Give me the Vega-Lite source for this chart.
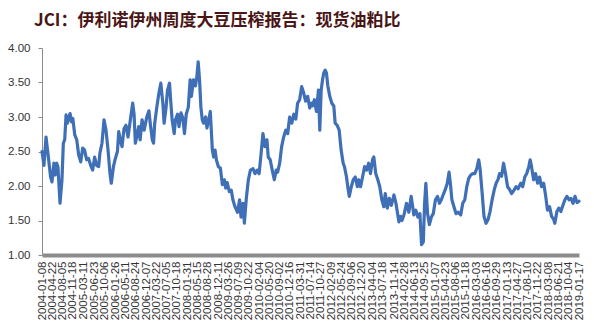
{
  "$schema": "https://vega.github.io/schema/vega-lite/v6.json",
  "autosize": {"type": "none"},
  "width": 537,
  "height": 207,
  "padding": {"left": 42, "top": 48, "right": 15, "bottom": 77},
  "background": "#ffffff",
  "title": {
    "text": "JCI：伊利诺伊州周度大豆压榨报告：现货油粕比",
    "anchor": "start",
    "frame": "group",
    "dx": -8,
    "offset": 12,
    "font": "Noto Sans CJK SC",
    "fontSize": 17,
    "fontWeight": "bold",
    "color": "#4a1515"
  },
  "config": {"view": {"stroke": null}},
  "data": {"values": [
    {"date": "2004-01-08", "ratio": 2.50},
    {"date": "2004-01-28", "ratio": 2.30},
    {"date": "2004-02-18", "ratio": 2.71},
    {"date": "2004-03-08", "ratio": 2.48},
    {"date": "2004-04-05", "ratio": 2.13},
    {"date": "2004-04-19", "ratio": 2.06},
    {"date": "2004-05-09", "ratio": 2.33},
    {"date": "2004-05-22", "ratio": 2.16},
    {"date": "2004-06-06", "ratio": 2.33},
    {"date": "2004-06-19", "ratio": 2.28},
    {"date": "2004-07-10", "ratio": 1.75},
    {"date": "2004-07-30", "ratio": 2.09},
    {"date": "2004-08-13", "ratio": 2.62},
    {"date": "2004-08-27", "ratio": 2.67},
    {"date": "2004-09-10", "ratio": 3.03},
    {"date": "2004-09-23", "ratio": 2.91},
    {"date": "2004-10-21", "ratio": 3.05},
    {"date": "2004-11-04", "ratio": 2.93},
    {"date": "2004-11-18", "ratio": 2.98},
    {"date": "2004-12-08", "ratio": 2.74},
    {"date": "2004-12-28", "ratio": 2.67},
    {"date": "2005-01-17", "ratio": 2.45},
    {"date": "2005-02-07", "ratio": 2.35},
    {"date": "2005-02-27", "ratio": 2.55},
    {"date": "2005-03-18", "ratio": 2.52},
    {"date": "2005-04-08", "ratio": 2.38},
    {"date": "2005-04-28", "ratio": 2.40},
    {"date": "2005-05-19", "ratio": 2.30},
    {"date": "2005-06-09", "ratio": 2.23},
    {"date": "2005-06-29", "ratio": 2.42},
    {"date": "2005-07-19", "ratio": 2.30},
    {"date": "2005-08-09", "ratio": 2.28},
    {"date": "2005-08-22", "ratio": 2.48},
    {"date": "2005-09-12", "ratio": 2.62},
    {"date": "2005-10-03", "ratio": 2.96},
    {"date": "2005-10-23", "ratio": 2.81},
    {"date": "2005-11-13", "ratio": 2.52},
    {"date": "2005-12-03", "ratio": 2.18},
    {"date": "2005-12-16", "ratio": 2.04},
    {"date": "2006-01-07", "ratio": 2.28},
    {"date": "2006-01-27", "ratio": 2.40},
    {"date": "2006-02-17", "ratio": 2.50},
    {"date": "2006-03-02", "ratio": 2.79},
    {"date": "2006-03-22", "ratio": 2.64},
    {"date": "2006-04-05", "ratio": 2.57},
    {"date": "2006-04-25", "ratio": 2.83},
    {"date": "2006-05-15", "ratio": 2.88},
    {"date": "2006-06-05", "ratio": 2.71},
    {"date": "2006-07-03", "ratio": 3.00},
    {"date": "2006-07-23", "ratio": 3.20},
    {"date": "2006-08-06", "ratio": 3.04},
    {"date": "2006-08-19", "ratio": 2.62},
    {"date": "2006-09-09", "ratio": 2.76},
    {"date": "2006-09-23", "ratio": 2.86},
    {"date": "2006-10-07", "ratio": 2.67},
    {"date": "2006-10-27", "ratio": 2.96},
    {"date": "2006-11-17", "ratio": 2.81},
    {"date": "2006-12-14", "ratio": 3.00},
    {"date": "2007-01-05", "ratio": 3.09},
    {"date": "2007-01-18", "ratio": 2.91},
    {"date": "2007-02-08", "ratio": 2.67},
    {"date": "2007-02-21", "ratio": 2.62},
    {"date": "2007-03-05", "ratio": 2.91},
    {"date": "2007-03-26", "ratio": 3.14},
    {"date": "2007-04-16", "ratio": 3.34},
    {"date": "2007-05-06", "ratio": 3.49},
    {"date": "2007-05-27", "ratio": 3.20},
    {"date": "2007-06-09", "ratio": 2.91},
    {"date": "2007-06-29", "ratio": 3.14},
    {"date": "2007-07-13", "ratio": 3.38},
    {"date": "2007-08-03", "ratio": 3.49},
    {"date": "2007-08-17", "ratio": 3.20},
    {"date": "2007-08-30", "ratio": 2.96},
    {"date": "2007-09-20", "ratio": 2.76},
    {"date": "2007-10-03", "ratio": 2.96},
    {"date": "2007-10-24", "ratio": 3.04},
    {"date": "2007-11-08", "ratio": 2.86},
    {"date": "2007-11-28", "ratio": 3.06},
    {"date": "2007-12-18", "ratio": 2.98},
    {"date": "2008-01-03", "ratio": 2.76},
    {"date": "2008-01-21", "ratio": 3.04},
    {"date": "2008-02-11", "ratio": 3.14},
    {"date": "2008-03-01", "ratio": 3.54},
    {"date": "2008-03-14", "ratio": 3.30},
    {"date": "2008-04-04", "ratio": 3.54},
    {"date": "2008-04-24", "ratio": 3.45},
    {"date": "2008-05-09", "ratio": 3.59},
    {"date": "2008-05-22", "ratio": 3.80},
    {"date": "2008-06-05", "ratio": 3.54},
    {"date": "2008-06-19", "ratio": 3.14},
    {"date": "2008-07-03", "ratio": 2.96},
    {"date": "2008-07-16", "ratio": 2.91},
    {"date": "2008-08-06", "ratio": 3.00},
    {"date": "2008-08-20", "ratio": 2.84},
    {"date": "2008-09-10", "ratio": 2.98},
    {"date": "2008-09-23", "ratio": 3.08},
    {"date": "2008-10-14", "ratio": 2.52},
    {"date": "2008-10-27", "ratio": 2.42},
    {"date": "2008-11-11", "ratio": 2.52},
    {"date": "2008-11-24", "ratio": 2.38},
    {"date": "2008-12-14", "ratio": 2.28},
    {"date": "2009-01-04", "ratio": 2.26},
    {"date": "2009-01-24", "ratio": 2.02},
    {"date": "2009-02-14", "ratio": 2.09},
    {"date": "2009-02-27", "ratio": 1.97},
    {"date": "2009-03-15", "ratio": 2.05},
    {"date": "2009-04-05", "ratio": 1.92},
    {"date": "2009-04-25", "ratio": 1.94},
    {"date": "2009-05-12", "ratio": 1.80},
    {"date": "2009-06-02", "ratio": 1.70},
    {"date": "2009-06-28", "ratio": 1.62},
    {"date": "2009-07-19", "ratio": 1.80},
    {"date": "2009-08-03", "ratio": 1.55},
    {"date": "2009-08-23", "ratio": 1.75},
    {"date": "2009-09-06", "ratio": 1.46},
    {"date": "2009-09-26", "ratio": 1.82},
    {"date": "2009-10-17", "ratio": 2.09},
    {"date": "2009-11-07", "ratio": 2.23},
    {"date": "2009-12-04", "ratio": 2.25},
    {"date": "2009-12-24", "ratio": 2.18},
    {"date": "2010-01-14", "ratio": 2.23},
    {"date": "2010-02-04", "ratio": 2.18},
    {"date": "2010-02-24", "ratio": 2.47},
    {"date": "2010-03-15", "ratio": 2.76},
    {"date": "2010-04-05", "ratio": 2.57},
    {"date": "2010-04-25", "ratio": 2.67},
    {"date": "2010-05-08", "ratio": 2.42},
    {"date": "2010-05-28", "ratio": 2.38},
    {"date": "2010-06-18", "ratio": 2.23},
    {"date": "2010-07-09", "ratio": 2.09},
    {"date": "2010-07-29", "ratio": 2.23},
    {"date": "2010-08-12", "ratio": 2.20},
    {"date": "2010-09-02", "ratio": 2.33},
    {"date": "2010-09-22", "ratio": 2.57},
    {"date": "2010-10-13", "ratio": 2.71},
    {"date": "2010-11-03", "ratio": 2.81},
    {"date": "2010-11-23", "ratio": 2.76},
    {"date": "2010-12-13", "ratio": 3.00},
    {"date": "2011-01-04", "ratio": 2.91},
    {"date": "2011-01-24", "ratio": 3.04},
    {"date": "2011-02-14", "ratio": 2.97},
    {"date": "2011-03-04", "ratio": 3.20},
    {"date": "2011-03-25", "ratio": 3.25},
    {"date": "2011-04-15", "ratio": 3.44},
    {"date": "2011-05-05", "ratio": 3.35},
    {"date": "2011-05-25", "ratio": 3.23},
    {"date": "2011-06-15", "ratio": 3.30},
    {"date": "2011-07-06", "ratio": 3.13},
    {"date": "2011-07-23", "ratio": 3.20},
    {"date": "2011-08-03", "ratio": 3.16},
    {"date": "2011-08-23", "ratio": 3.25},
    {"date": "2011-09-13", "ratio": 3.08},
    {"date": "2011-10-03", "ratio": 3.39},
    {"date": "2011-10-17", "ratio": 2.81},
    {"date": "2011-10-31", "ratio": 3.39},
    {"date": "2011-11-14", "ratio": 3.54},
    {"date": "2011-11-27", "ratio": 3.64},
    {"date": "2011-12-11", "ratio": 3.68},
    {"date": "2011-12-24", "ratio": 3.64},
    {"date": "2012-01-07", "ratio": 3.45},
    {"date": "2012-01-27", "ratio": 3.30},
    {"date": "2012-02-17", "ratio": 3.20},
    {"date": "2012-03-08", "ratio": 3.16},
    {"date": "2012-03-22", "ratio": 2.91},
    {"date": "2012-04-12", "ratio": 2.88},
    {"date": "2012-05-02", "ratio": 2.81},
    {"date": "2012-05-22", "ratio": 2.52},
    {"date": "2012-06-12", "ratio": 2.33},
    {"date": "2012-06-25", "ratio": 2.28},
    {"date": "2012-07-16", "ratio": 2.13},
    {"date": "2012-07-29", "ratio": 1.99},
    {"date": "2012-08-13", "ratio": 1.85},
    {"date": "2012-09-03", "ratio": 1.99},
    {"date": "2012-09-23", "ratio": 2.09},
    {"date": "2012-10-14", "ratio": 2.13},
    {"date": "2012-11-04", "ratio": 1.99},
    {"date": "2012-11-17", "ratio": 2.09},
    {"date": "2012-12-07", "ratio": 1.99},
    {"date": "2012-12-27", "ratio": 2.13},
    {"date": "2013-01-17", "ratio": 2.28},
    {"date": "2013-02-07", "ratio": 2.23},
    {"date": "2013-02-27", "ratio": 2.33},
    {"date": "2013-03-18", "ratio": 2.18},
    {"date": "2013-04-08", "ratio": 2.38},
    {"date": "2013-04-21", "ratio": 2.42},
    {"date": "2013-05-11", "ratio": 2.18},
    {"date": "2013-06-01", "ratio": 2.09},
    {"date": "2013-06-21", "ratio": 1.99},
    {"date": "2013-07-12", "ratio": 1.80},
    {"date": "2013-08-01", "ratio": 1.70},
    {"date": "2013-08-16", "ratio": 1.89},
    {"date": "2013-09-06", "ratio": 1.68},
    {"date": "2013-09-26", "ratio": 1.82},
    {"date": "2013-10-17", "ratio": 1.72},
    {"date": "2013-11-13", "ratio": 1.87},
    {"date": "2013-12-03", "ratio": 1.75},
    {"date": "2014-01-03", "ratio": 1.48},
    {"date": "2014-01-20", "ratio": 1.56},
    {"date": "2014-02-03", "ratio": 1.50},
    {"date": "2014-02-23", "ratio": 1.58},
    {"date": "2014-03-21", "ratio": 1.75},
    {"date": "2014-04-14", "ratio": 1.62},
    {"date": "2014-05-08", "ratio": 1.85},
    {"date": "2014-06-04", "ratio": 1.58},
    {"date": "2014-06-24", "ratio": 1.65},
    {"date": "2014-07-15", "ratio": 1.55},
    {"date": "2014-08-05", "ratio": 1.60},
    {"date": "2014-08-22", "ratio": 1.15},
    {"date": "2014-09-09", "ratio": 1.19},
    {"date": "2014-09-22", "ratio": 1.75},
    {"date": "2014-10-05", "ratio": 2.04},
    {"date": "2014-10-22", "ratio": 1.60},
    {"date": "2014-11-10", "ratio": 1.44},
    {"date": "2014-11-30", "ratio": 1.55},
    {"date": "2014-12-20", "ratio": 1.60},
    {"date": "2015-01-11", "ratio": 1.80},
    {"date": "2015-02-01", "ratio": 1.85},
    {"date": "2015-02-21", "ratio": 1.75},
    {"date": "2015-03-12", "ratio": 1.80},
    {"date": "2015-04-02", "ratio": 1.88},
    {"date": "2015-04-22", "ratio": 1.95},
    {"date": "2015-05-12", "ratio": 2.04},
    {"date": "2015-05-30", "ratio": 2.20},
    {"date": "2015-06-15", "ratio": 2.00},
    {"date": "2015-06-28", "ratio": 1.80},
    {"date": "2015-07-19", "ratio": 1.70},
    {"date": "2015-08-09", "ratio": 1.60},
    {"date": "2015-08-29", "ratio": 1.62},
    {"date": "2015-09-26", "ratio": 1.58},
    {"date": "2015-10-17", "ratio": 1.75},
    {"date": "2015-11-07", "ratio": 1.80},
    {"date": "2015-11-27", "ratio": 1.99},
    {"date": "2015-12-17", "ratio": 2.11},
    {"date": "2016-01-07", "ratio": 2.16},
    {"date": "2016-01-27", "ratio": 2.18},
    {"date": "2016-02-17", "ratio": 2.18},
    {"date": "2016-03-08", "ratio": 2.25},
    {"date": "2016-03-28", "ratio": 2.38},
    {"date": "2016-04-11", "ratio": 2.25},
    {"date": "2016-05-01", "ratio": 1.92},
    {"date": "2016-05-21", "ratio": 1.56},
    {"date": "2016-06-11", "ratio": 1.46},
    {"date": "2016-07-01", "ratio": 1.51},
    {"date": "2016-07-22", "ratio": 1.63},
    {"date": "2016-08-12", "ratio": 1.80},
    {"date": "2016-09-02", "ratio": 1.94},
    {"date": "2016-09-22", "ratio": 2.04},
    {"date": "2016-10-13", "ratio": 2.10},
    {"date": "2016-10-27", "ratio": 2.18},
    {"date": "2016-11-17", "ratio": 2.14},
    {"date": "2016-12-07", "ratio": 2.33},
    {"date": "2016-12-27", "ratio": 2.18},
    {"date": "2017-01-17", "ratio": 1.99},
    {"date": "2017-02-07", "ratio": 1.95},
    {"date": "2017-02-27", "ratio": 1.89},
    {"date": "2017-03-24", "ratio": 1.94},
    {"date": "2017-04-14", "ratio": 1.99},
    {"date": "2017-05-04", "ratio": 1.96},
    {"date": "2017-06-01", "ratio": 2.04},
    {"date": "2017-06-21", "ratio": 1.99},
    {"date": "2017-07-12", "ratio": 2.13},
    {"date": "2017-08-01", "ratio": 2.18},
    {"date": "2017-08-22", "ratio": 2.28},
    {"date": "2017-09-05", "ratio": 2.38},
    {"date": "2017-09-19", "ratio": 2.28},
    {"date": "2017-10-10", "ratio": 2.09},
    {"date": "2017-10-30", "ratio": 2.18},
    {"date": "2017-11-20", "ratio": 2.04},
    {"date": "2017-12-10", "ratio": 2.13},
    {"date": "2017-12-30", "ratio": 1.99},
    {"date": "2018-01-21", "ratio": 2.04},
    {"date": "2018-02-11", "ratio": 1.85},
    {"date": "2018-03-01", "ratio": 1.65},
    {"date": "2018-03-22", "ratio": 1.70},
    {"date": "2018-04-12", "ratio": 1.56},
    {"date": "2018-05-02", "ratio": 1.52},
    {"date": "2018-05-15", "ratio": 1.46},
    {"date": "2018-06-05", "ratio": 1.63},
    {"date": "2018-06-25", "ratio": 1.68},
    {"date": "2018-07-16", "ratio": 1.63},
    {"date": "2018-08-06", "ratio": 1.72},
    {"date": "2018-08-26", "ratio": 1.80},
    {"date": "2018-09-16", "ratio": 1.85},
    {"date": "2018-10-07", "ratio": 1.80},
    {"date": "2018-10-27", "ratio": 1.82},
    {"date": "2018-11-17", "ratio": 1.75},
    {"date": "2018-12-07", "ratio": 1.85},
    {"date": "2018-12-27", "ratio": 1.76},
    {"date": "2019-01-17", "ratio": 1.78}
  ]},
  "mark": {"type": "line", "color": "#3f6fb6", "strokeWidth": 3.2, "strokeJoin": "round", "strokeCap": "round"},
  "encoding": {
    "x": {
      "field": "date",
      "type": "temporal",
      "scale": {"domain": ["2004-01-08", "2019-01-17"], "nice": false},
      "axis": {
        "title": null,
        "values": ["2004-01-08","2004-04-22","2004-08-05","2004-11-18","2005-03-11","2005-06-23","2005-10-06","2006-01-26","2006-05-11","2006-08-24","2006-12-07","2007-03-22","2007-07-05","2007-10-18","2008-01-31","2008-05-15","2008-08-28","2008-12-11","2009-03-26","2009-07-09","2009-10-22","2010-02-04","2010-05-20","2010-09-02","2010-12-16","2011-03-31","2011-07-14","2011-10-27","2012-02-09","2012-05-24","2012-09-06","2012-12-20","2013-04-04","2013-07-18","2013-11-14","2014-02-28","2014-06-13","2014-09-25","2015-01-07","2015-04-23","2015-08-06","2015-11-18","2016-03-03","2016-06-16","2016-09-29","2017-01-13","2017-04-27","2017-08-10","2017-11-22","2018-03-08","2018-06-21","2018-10-04","2019-01-17"],
        "format": "%Y-%m-%d",
        "labelAngle": -90,
        "labelFont": "Liberation Sans",
        "labelFontSize": 11.5,
        "labelColor": "#333333",
        "labelPadding": 6,
        "labelOverlap": false,
        "labelBound": false,
        "labelFlush": false,
        "ticks": false,
        "grid": false,
        "domainColor": "#8c8c8c",
        "domainWidth": 4
      }
    },
    "y": {
      "field": "ratio",
      "type": "quantitative",
      "scale": {"domain": [1, 4], "nice": false, "zero": false},
      "axis": {
        "title": null,
        "values": [1, 1.5, 2, 2.5, 3, 3.5, 4],
        "format": ".2f",
        "labelFont": "Liberation Sans",
        "labelFontSize": 11.5,
        "labelColor": "#333333",
        "labelPadding": 8,
        "tickSize": 4,
        "tickColor": "#8c8c8c",
        "domainColor": "#8c8c8c",
        "grid": false
      }
    }
  }
}
